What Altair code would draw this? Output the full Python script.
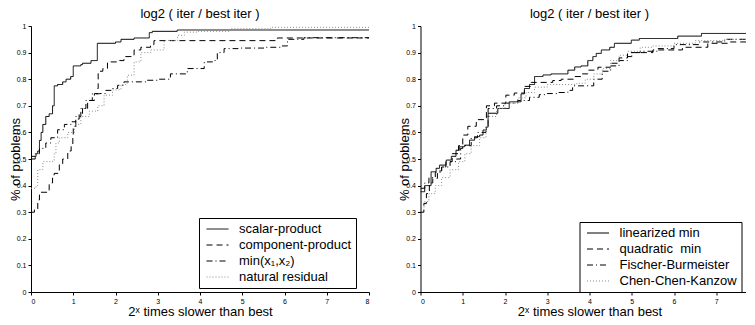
import altair as alt
import pandas as pd

FONT = "Liberation Sans"
PANEL_TITLE = "log2 ( iter / best iter )"
X_TITLE = "2ˣ times slower than best"
Y_TITLE = "% of problems"

x_ticks = [0, 1, 2, 3, 4, 5, 6, 7, 8]
y_ticks = [0, 0.1, 0.2, 0.3, 0.4, 0.5, 0.6, 0.7, 0.8, 0.9, 1]

# ---------------- left panel ----------------
left_names = ["scalar-product", "component-product", "min(x₁,x₂)", "natural residual"]

scalar_x = [0, 0.12, 0.16, 0.2, 0.24, 0.28, 0.35, 0.43, 0.51, 0.55, 0.63, 0.75, 0.83, 0.94, 1.0,
            1.18, 1.22, 1.42, 1.57, 2.0, 2.13, 2.44, 2.8, 2.87, 3.46, 8]
scalar_y = [0.51, 0.52, 0.53, 0.57, 0.60, 0.63, 0.66, 0.67, 0.70, 0.775, 0.78, 0.79, 0.80, 0.81, 0.85,
            0.855, 0.86, 0.87, 0.935, 0.94, 0.95, 0.955, 0.975, 0.98, 0.985, 0.985]

comp_x = [0, 0.08, 0.16, 0.2, 0.39, 0.43, 0.51, 0.55, 0.67, 0.75, 0.87, 0.95, 0.99, 1.0, 1.06, 1.14,
          1.22, 1.34, 1.5, 1.58, 1.59, 1.7, 1.81, 2.05, 2.2, 2.44, 2.6, 2.83, 2.91, 5.83, 8]
comp_y = [0.30, 0.31, 0.346, 0.375, 0.38, 0.41, 0.44, 0.446, 0.48, 0.50, 0.53, 0.55, 0.58, 0.615, 0.65, 0.67,
          0.69, 0.72, 0.746, 0.765, 0.83, 0.84, 0.865, 0.87, 0.885, 0.91, 0.92, 0.93, 0.945, 0.955, 0.955]

min_x = [0, 0.1, 0.2, 0.35, 0.47, 0.63, 0.79, 0.95, 1.06, 1.18, 1.3, 1.45, 1.62, 1.77, 1.93, 2.05, 2.2,
         2.72, 3.0, 3.3, 3.7, 4.1, 4.3, 4.41, 4.57, 4.9, 5.52, 5.9, 6.07, 6.46, 8]
min_y = [0.50, 0.52, 0.54, 0.56, 0.58, 0.61, 0.63, 0.64, 0.66, 0.69, 0.72, 0.745, 0.746, 0.758, 0.765, 0.777,
         0.79, 0.796, 0.80, 0.82, 0.84, 0.865, 0.87, 0.90, 0.915, 0.917, 0.92, 0.925, 0.95, 0.956, 0.956]

nat_x = [0, 0.12, 0.16, 0.28, 0.51, 0.55, 0.59, 0.67, 0.87, 1.03, 1.18, 1.38, 1.58, 1.73, 1.93, 2.13,
         2.28, 2.44, 2.6, 2.83, 3.15, 3.47, 3.63, 3.94, 4.73, 5.67, 8]
nat_y = [0.39, 0.40, 0.46, 0.49, 0.496, 0.52, 0.56, 0.58, 0.60, 0.63, 0.66, 0.68, 0.70, 0.74, 0.76, 0.78,
         0.815, 0.865, 0.90, 0.91, 0.946, 0.965, 0.977, 0.98, 0.99, 0.995, 0.995]

# ---------------- right panel ----------------
right_names = ["linearized min", "quadratic\u00a0 min", "Fischer-Burmeister", "Chen-Chen-Kanzow"]

lin_x = [0, 0.1, 0.25, 0.37, 0.45, 0.61, 0.73, 0.84, 0.92, 1.04, 1.16, 1.28, 1.4, 1.48, 1.56, 1.6,
         1.83, 2.1, 2.38, 2.46, 2.58, 2.7, 2.9, 3.09, 3.49, 3.65, 3.8, 3.96, 4.08, 4.16, 4.28, 4.48,
         4.59, 4.99, 5.18, 6.09, 6.65, 8]
lin_y = [0.377, 0.40, 0.452, 0.465, 0.477, 0.496, 0.51, 0.533, 0.546, 0.552, 0.571, 0.584, 0.59, 0.609,
         0.62, 0.672, 0.69, 0.715, 0.745, 0.765, 0.78, 0.81, 0.816, 0.82, 0.834, 0.846, 0.85, 0.87, 0.885,
         0.897, 0.91, 0.92, 0.935, 0.947, 0.953, 0.962, 0.972, 0.975]

quad_x = [0, 0.08, 0.14, 0.21, 0.29, 0.4, 0.5, 0.6, 0.75, 0.9, 1.0, 1.12, 1.32, 1.51, 1.56, 1.75, 2.02,
          2.22, 2.46, 2.62, 3.13, 3.33, 3.65, 3.8, 3.96, 4.2, 4.5, 4.7, 4.9, 5.5, 6.2, 6.8, 7.3, 8]
quad_y = [0.30, 0.333, 0.37, 0.41, 0.427, 0.455, 0.47, 0.49, 0.52, 0.55, 0.59, 0.623, 0.648, 0.655, 0.70,
          0.71, 0.74, 0.748, 0.773, 0.788, 0.795, 0.80, 0.81, 0.82, 0.834, 0.845, 0.86, 0.88, 0.90, 0.91,
          0.92, 0.935, 0.94, 0.942]

fb_x = [0, 0.1, 0.2, 0.35, 0.5, 0.7, 0.85, 0.95, 1.0, 1.2, 1.35, 1.55, 1.6, 1.8, 2.0, 2.3, 2.58, 2.81,
        3.0, 3.25, 3.49, 3.6, 4.1, 4.3, 4.5, 4.7, 4.9, 5.0, 5.2, 5.6, 6.0, 6.6, 7.2, 8]
fb_y = [0.39, 0.41, 0.43, 0.45, 0.47, 0.49, 0.50, 0.54, 0.55, 0.58, 0.60, 0.625, 0.69, 0.70, 0.71, 0.72,
        0.732, 0.742, 0.746, 0.75, 0.758, 0.775, 0.80, 0.83, 0.85, 0.87, 0.885, 0.90, 0.905, 0.915, 0.93,
        0.94, 0.95, 0.953]

cck_x = [0, 0.1, 0.2, 0.35, 0.5, 0.7, 0.9, 1.05, 1.2, 1.4, 1.55, 1.6, 1.8, 2.0, 2.3, 2.5, 2.7, 3.0,
         3.7, 3.9, 4.1, 4.3, 4.5, 4.7, 4.9, 5.2, 5.5, 6.0, 6.5, 7.2, 8]
cck_y = [0.32, 0.34, 0.37, 0.40, 0.43, 0.46, 0.49, 0.52, 0.55, 0.58, 0.62, 0.66, 0.69, 0.71, 0.73, 0.75,
         0.77, 0.78, 0.785, 0.80, 0.82, 0.84, 0.87, 0.89, 0.905, 0.92, 0.925, 0.935, 0.945, 0.95, 0.952]

line_colors = ["black", "black", "black", "#8a8a8a"]
line_dashes = [[1, 0], [6, 4], [6, 3, 1, 3], [1, 2]]


def build_frame(names, xs_list, ys_list):
    rows = []
    for name, xs, ys in zip(names, xs_list, ys_list):
        for i, (xv, yv) in enumerate(zip(xs, ys)):
            rows.append({"method": name, "x": xv, "y": yv, "order": i})
    return pd.DataFrame(rows)


def panel(names, xs_list, ys_list, leg_x, leg_y):
    df = build_frame(names, xs_list, ys_list)
    legend = alt.Legend(
        title=None, orient="none", legendX=leg_x, legendY=leg_y,
        symbolType="stroke", symbolSize=484, symbolStrokeWidth=1,
        labelFont=FONT, labelFontSize=13, labelColor="black",
        padding=4, strokeColor="black", fillColor="white", cornerRadius=0,
        clipHeight=14, rowPadding=2, symbolOffset=3, labelOffset=10,
    )
    return alt.Chart(df).mark_line(interpolate="step-after", strokeWidth=1, clip=True).encode(
        x=alt.X("x:Q", scale=alt.Scale(domain=[0, 8], nice=False),
                axis=alt.Axis(values=x_ticks, title=X_TITLE, format="d")),
        y=alt.Y("y:Q", scale=alt.Scale(domain=[0, 1], nice=False),
                axis=alt.Axis(values=y_ticks, title=Y_TITLE, format="~g")),
        color=alt.Color("method:N", scale=alt.Scale(domain=names, range=line_colors), legend=legend),
        strokeDash=alt.StrokeDash("method:N", scale=alt.Scale(domain=names, range=line_dashes), legend=legend),
        order="order:Q",
    ).properties(
        width=338, height=266,
        title=alt.TitleParams(PANEL_TITLE, frame="group", offset=1.5),
    )


left = panel(left_names, [scalar_x, comp_x, min_x, nat_x], [scalar_y, comp_y, min_y, nat_y], 168, 192)
right = panel(right_names, [lin_x, quad_x, fb_x, cck_x], [lin_y, quad_y, fb_y, cck_y], 159, 196)

chart = alt.hconcat(left, right, spacing=27.5).resolve_scale(
    color="independent", strokeDash="independent"
).resolve_legend(
    color="independent", strokeDash="independent"
).properties(
    padding={"left": 0, "top": -1, "right": -14, "bottom": -2}
).configure_view(
    stroke="transparent"
).configure_axis(
    grid=False, domainColor="black", tickColor="black", labelColor="black", titleColor="black",
    labelFont=FONT, titleFont=FONT, labelFontSize=7, titleFontSize=13, titleFontWeight="normal",
    tickSize=3, labelPadding=2, domainWidth=1, tickWidth=1,
).configure_axisY(
    titlePadding=-6
).configure_axisX(
    titlePadding=1
).configure_title(
    font=FONT, fontSize=13, fontWeight="normal", color="black", anchor="middle"
)

chart.save("out.html", embed_options={"renderer": "svg", "actions": False})
